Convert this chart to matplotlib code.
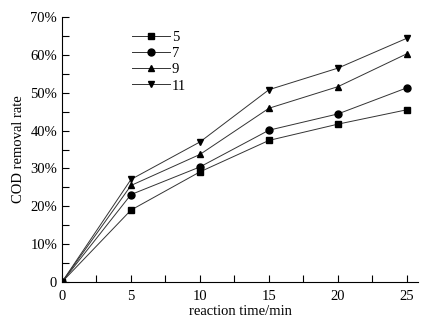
import numpy as np
import matplotlib
matplotlib.use("Agg")
import matplotlib.pyplot as plt
from matplotlib.ticker import MultipleLocator, FuncFormatter

plt.rcParams['font.family'] = ['Liberation Serif', 'DejaVu Serif']

# reaction time (min) and COD removal rate (%) per series
time = [0, 5, 10, 15, 20, 25]
labels = ['5', '7', '9', '11']
rate_5 = [0, 19.0, 29.1, 37.4, 41.7, 45.5]
rate_7 = [0, 23.1, 30.4, 40.1, 44.4, 51.3]
rate_9 = [0, 25.5, 33.7, 45.9, 51.6, 60.3]
rate_11 = [0, 27.1, 37.0, 50.8, 56.5, 64.4]

series = [rate_5, rate_7, rate_9, rate_11]
markers = ['s', 'o', '^', 'v']

fig = plt.figure(figsize=(4.45, 3.25), dpi=100)
ax = fig.add_axes([62 / 445, 1 - 282 / 325, (418 - 62) / 445, (282 - 17) / 325])

for lab, y, m in zip(labels, series, markers):
    ax.plot(time, y, color='#333333', lw=0.7, marker=m, ms=5,
            mfc='black', mec='black', label=lab)

ax.set_xlim(0, 25.8)
ax.set_ylim(0, 70)
ax.xaxis.set_major_locator(MultipleLocator(5))
ax.xaxis.set_minor_locator(MultipleLocator(2.5))
ax.yaxis.set_major_locator(MultipleLocator(10))
ax.yaxis.set_minor_locator(MultipleLocator(5))
ax.yaxis.set_major_formatter(FuncFormatter(lambda v, p: '0' if v == 0 else '%d%%' % v))
ax.tick_params(which='both', direction='in', labelsize=10.5, width=0.8)
ax.tick_params(which='major', length=5)
ax.tick_params(which='minor', length=5)
ax.tick_params(axis='x', pad=6)
ax.spines['top'].set_visible(False)
ax.spines['right'].set_visible(False)

ax.set_xlabel('reaction time/min', fontsize=10.5, labelpad=1)
ax.set_ylabel('COD removal rate', fontsize=10.5, labelpad=4)

ax.legend(loc='upper left', bbox_to_anchor=(0.175, 0.975), frameon=False,
          fontsize=10.5, handlelength=2.6, handletextpad=0.15, labelspacing=0.2,
          borderpad=0)

fig.savefig('out.png', dpi=100)
